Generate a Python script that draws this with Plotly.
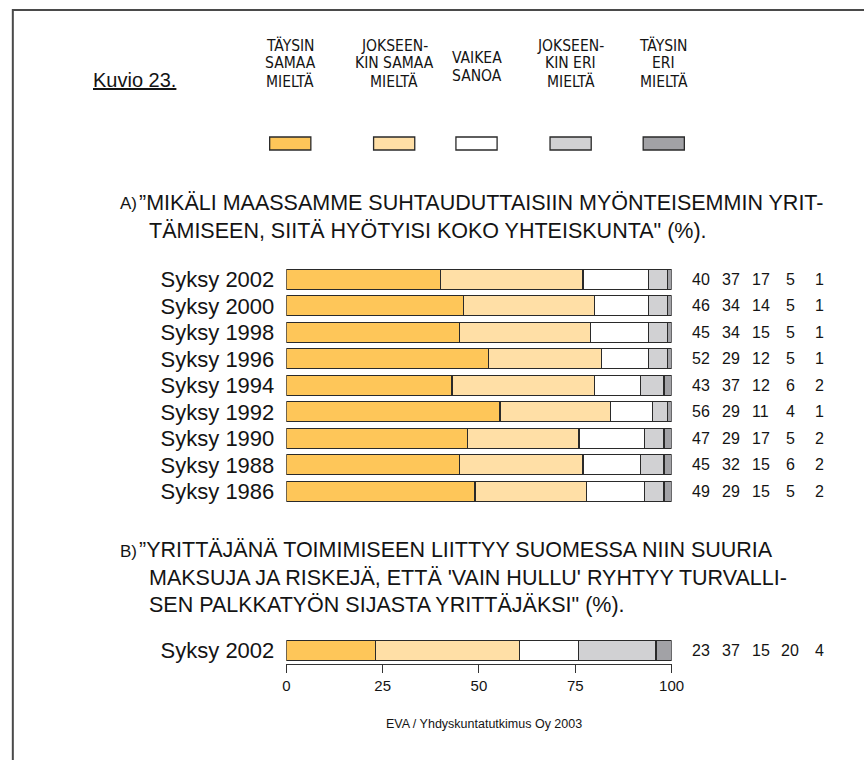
import plotly.graph_objects as go

# ---------------- data ----------------
series_names = ["TÄYSIN SAMAA MIELTÄ", "JOKSEENKIN SAMAA MIELTÄ", "VAIKEA SANOA",
                "JOKSEENKIN ERI MIELTÄ", "TÄYSIN ERI MIELTÄ"]
legend_lines = [["TÄYSIN", "SAMAA", "MIELTÄ"],
                ["JOKSEEN-", "KIN SAMAA", "MIELTÄ"],
                ["VAIKEA", "SANOA"],
                ["JOKSEEN-", "KIN ERI", "MIELTÄ"],
                ["TÄYSIN", "ERI", "MIELTÄ"]]
colors = ["#FEC659", "#FFDFA6", "#FFFFFF", "#D1D1D3", "#A2A2A6"]

years_a = ["Syksy 2002", "Syksy 2000", "Syksy 1998", "Syksy 1996", "Syksy 1994",
           "Syksy 1992", "Syksy 1990", "Syksy 1988", "Syksy 1986"]
a_taysin_samaa = [40, 46, 45, 52, 43, 56, 47, 45, 49]
a_jokseenkin_samaa = [37, 34, 34, 29, 37, 29, 29, 32, 29]
a_vaikea = [17, 14, 15, 12, 12, 11, 17, 15, 15]
a_jokseenkin_eri = [5, 5, 5, 5, 6, 4, 5, 6, 5]
a_taysin_eri = [1, 1, 1, 1, 2, 1, 2, 2, 2]

years_b = ["Syksy 2002"]
b_taysin_samaa = [23]
b_jokseenkin_samaa = [37]
b_vaikea = [15]
b_jokseenkin_eri = [20]
b_taysin_eri = [4]

x_ticks = [0, 25, 50, 75, 100]

title_a = ["”MIKÄLI MAASSAMME SUHTAUDUTTAISIIN MYÖNTEISEMMIN YRIT-",
           "TÄMISEEN, SIITÄ HYÖTYISI KOKO YHTEISKUNTA\" (%)."]
title_b = ["”YRITTÄJÄNÄ TOIMIMISEEN LIITTYY SUOMESSA NIIN SUURIA",
           "MAKSUJA JA RISKEJÄ, ETTÄ 'VAIN HULLU' RYHTYY TURVALLI-",
           "SEN PALKKATYÖN SIJASTA YRITTÄJÄKSI\" (%)."]
figure_label = "Kuvio 23."
source_text = "EVA / Yhdyskuntatutkimus Oy 2003"

# ---------------- layout helpers ----------------
W, H = 864, 760
def px(x): return x / W
def py(y): return 1 - y / H

FONT = "Liberation Sans, Arial, Helvetica, sans-serif"
NARROW = "Liberation Sans Narrow, Arial Narrow, DejaVu Sans Condensed, sans-serif"
INK = "#141414"
EDGE = "#2a2a2a"

series_a = [a_taysin_samaa, a_jokseenkin_samaa, a_vaikea, a_jokseenkin_eri, a_taysin_eri]
series_b = [b_taysin_samaa, b_jokseenkin_samaa, b_vaikea, b_jokseenkin_eri, b_taysin_eri]

def normalise(series):
    totals = [sum(vals) for vals in zip(*series)]
    return [[v / t * 100 for v, t in zip(s, totals)] for s in series]

norm_a = normalise(series_a)
norm_b = normalise(series_b)

fig = go.Figure()
for i in range(5):
    fig.add_trace(go.Bar(
        y=years_a, x=norm_a[i], orientation="h", name=series_names[i],
        marker=dict(color=colors[i], line=dict(color=EDGE, width=1.3)),
        xaxis="x", yaxis="y", showlegend=False, hoverinfo="skip"))
    fig.add_trace(go.Bar(
        y=years_b, x=norm_b[i], orientation="h", name=series_names[i],
        marker=dict(color=colors[i], line=dict(color=EDGE, width=1.3)),
        xaxis="x2", yaxis="y2", showlegend=False, hoverinfo="skip"))

x0p, x1p = 288, 681
row_h = 26.5
a_top = 279.3 - row_h / 2
a_bot = a_top + row_h * len(years_a)
b_center = 650.5
b_top, b_bot = b_center - row_h / 2, b_center + row_h / 2

annotations = []
shapes = []

# number columns
col_x = [711, 742, 772, 802, 832]
for j, yr in enumerate(years_a):
    for k in range(5):
        annotations.append(dict(x=px(col_x[k]), xref="paper", y=yr, yref="y",
                                text=str(series_a[k][j]), showarrow=False,
                                xanchor="center", yanchor="middle",
                                font=dict(family=FONT, size=16, color=INK)))
for j, yr in enumerate(years_b):
    for k in range(5):
        annotations.append(dict(x=px(col_x[k]), xref="paper", y=yr, yref="y2",
                                text=str(series_b[k][j]), showarrow=False,
                                xanchor="center", yanchor="middle",
                                font=dict(family=FONT, size=16, color=INK)))

# legend
leg_x = [292, 398, 482, 578, 673]
for k in range(5):
    lines = legend_lines[k]
    ys = [46, 63.5, 81] if len(lines) == 3 else [58, 75.5]
    for ln, yy in zip(lines, ys):
        annotations.append(dict(x=px(leg_x[k]), y=py(yy), xref="paper", yref="paper",
                                text=ln, showarrow=False, xanchor="center", yanchor="middle",
                                font=dict(family=NARROW, size=15.5, color=INK)))
    shapes.append(dict(type="rect", xref="paper", yref="paper",
                       x0=px(leg_x[k] - 21), x1=px(leg_x[k] + 21),
                       y0=py(150), y1=py(137),
                       fillcolor=colors[k], line=dict(color=EDGE, width=1.3)))

annotations.append(dict(x=px(133), y=py(80), xref="paper", yref="paper",
                        text="<u>" + figure_label + "</u>", showarrow=False,
                        xanchor="center", yanchor="middle",
                        font=dict(family=FONT, size=20, color=INK)))

# titles
annotations.append(dict(x=px(116), y=py(204), xref="paper", yref="paper", text="A)",
                        showarrow=False, xanchor="left", yanchor="middle",
                        font=dict(family=FONT, size=17, color=INK)))
for ln, (xx, yy) in zip(title_a, [(136, 203), (146, 231)]):
    annotations.append(dict(x=px(xx), y=py(yy), xref="paper", yref="paper", text=ln,
                            showarrow=False, xanchor="left", yanchor="middle",
                            font=dict(family=FONT, size=21.5, color=INK)))
annotations.append(dict(x=px(116), y=py(551), xref="paper", yref="paper", text="B)",
                        showarrow=False, xanchor="left", yanchor="middle",
                        font=dict(family=FONT, size=17, color=INK)))
for ln, (xx, yy) in zip(title_b, [(136, 550), (146, 578), (146, 605)]):
    annotations.append(dict(x=px(xx), y=py(yy), xref="paper", yref="paper", text=ln,
                            showarrow=False, xanchor="left", yanchor="middle",
                            font=dict(family=FONT, size=21.5, color=INK)))

annotations.append(dict(x=px(490), y=py(724), xref="paper", yref="paper", text=source_text,
                        showarrow=False, xanchor="center", yanchor="middle",
                        font=dict(family=FONT, size=12.5, color=INK)))

# outer frame
shapes.append(dict(type="rect", xref="paper", yref="paper",
                   x0=px(9), x1=px(W + 20), y0=py(H + 20), y1=py(10),
                   line=dict(color="#4a4a4a", width=2), fillcolor="rgba(0,0,0,0)"))

fig.update_layout(
    width=W, height=H, margin=dict(l=0, r=0, t=0, b=0),
    paper_bgcolor="white", plot_bgcolor="white",
    barmode="stack", bargap=0.245,
    xaxis=dict(domain=[px(x0p), px(x1p)], range=[0, 100], anchor="y",
               showgrid=False, zeroline=False, showline=False, showticklabels=False,
               ticks="", fixedrange=True),
    yaxis=dict(domain=[py(a_bot), py(a_top)], anchor="x", type="category",
               categoryorder="array", categoryarray=years_a, autorange="reversed",
               showgrid=False, zeroline=False, showline=False, ticks="",
               ticklabelstandoff=11,
               tickfont=dict(family=FONT, size=22, color=INK), fixedrange=True),
    xaxis2=dict(domain=[px(x0p), px(x1p)], range=[0, 100], anchor="y2",
                tickvals=x_ticks, ticktext=[str(v) for v in x_ticks],
                showgrid=False, zeroline=False, showline=True, linecolor="#333333",
                linewidth=1.2, ticks="outside", ticklen=8, tickcolor="#333333",
                tickwidth=1.2, tickfont=dict(family=FONT, size=15, color=INK),
                fixedrange=True),
    yaxis2=dict(domain=[py(b_bot), py(b_top)], anchor="x2", type="category",
                categoryarray=years_b, showgrid=False, zeroline=False, showline=False,
                ticks="", ticklabelstandoff=11,
                tickfont=dict(family=FONT, size=22, color=INK), fixedrange=True),
    annotations=annotations, shapes=shapes,
)

fig.write_html("out.html", include_plotlyjs=True, config={"displayModeBar": False},
               post_script="document.body.style.margin='0px';document.body.style.overflow='hidden';")
